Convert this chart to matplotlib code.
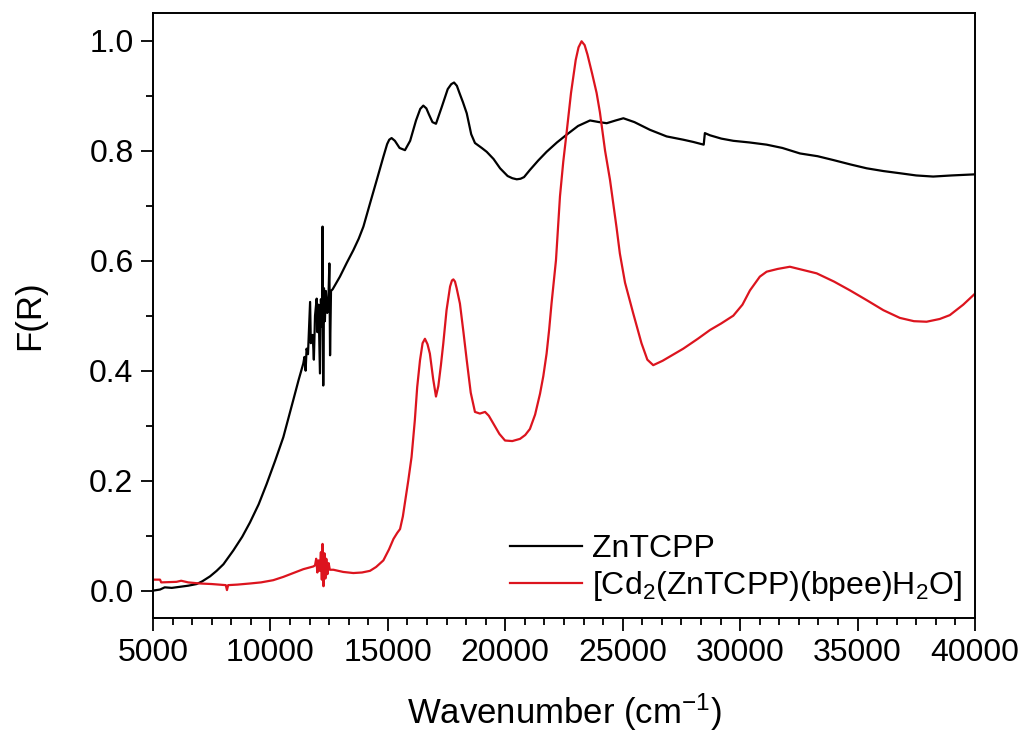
import numpy as np
import matplotlib
matplotlib.use('Agg')
from matplotlib import pyplot as plt
from matplotlib.ticker import MultipleLocator, AutoMinorLocator

# ZnTCPP (black)
znt_x = [5000, 5300, 5500, 5800, 6150, 6500, 6860, 7100, 7430, 7710, 8000, 8420, 8800, 9130, 9500,
         9840, 10200, 10550, 10970, 11200, 11400,
         11450, 11500, 11540, 11600, 11690, 11720, 11800, 11850, 11900, 11970, 12000, 12050, 12110,
         12150, 12200, 12220, 12250, 12280, 12320, 12360, 12420, 12470, 12510, 12540, 12580, 12650,
         12960, 13250, 13530, 13760, 13960, 14240, 14530, 14810, 14970, 15060, 15160, 15300, 15500,
         15730, 15950, 16200, 16380, 16510, 16640, 16750, 16900, 17050, 17300, 17550, 17700, 17820,
         17940, 18050, 18200, 18360, 18550, 18710, 19000, 19210, 19500, 19780, 20100, 20300, 20490,
         20650, 20800, 21050, 21400, 21760, 22200, 22610, 23100, 23610, 24000, 24320, 24700, 25030,
         25500, 26160, 26870, 27580, 28000, 28450, 28500, 28720, 29200, 29710, 30400, 31130, 31800,
         32550, 33300, 33970, 34700, 35390, 36100, 36810, 37500, 38220, 39000, 40000]
znt_y = [0.000, 0.002, 0.006, 0.005, 0.007, 0.009, 0.012, 0.017, 0.026, 0.036, 0.048, 0.073, 0.098,
         0.124, 0.157, 0.194, 0.236, 0.279, 0.346, 0.383, 0.413,
         0.425, 0.400, 0.440, 0.430, 0.525, 0.450, 0.465, 0.420, 0.500, 0.531, 0.470, 0.520, 0.395,
         0.530, 0.480, 0.662, 0.373, 0.550, 0.490, 0.545, 0.505, 0.530, 0.595, 0.428, 0.545, 0.548,
         0.571, 0.596, 0.619, 0.640, 0.662, 0.704, 0.747, 0.789, 0.812, 0.820, 0.823, 0.818, 0.805,
         0.801, 0.818, 0.855, 0.876, 0.882, 0.877, 0.866, 0.852, 0.849, 0.880, 0.912, 0.921, 0.924,
         0.918, 0.905, 0.888, 0.868, 0.830, 0.814, 0.805, 0.798, 0.785, 0.768, 0.754, 0.750, 0.748,
         0.749, 0.752, 0.765, 0.782, 0.798, 0.815, 0.829, 0.845, 0.855, 0.852, 0.850, 0.855, 0.859,
         0.852, 0.838, 0.826, 0.820, 0.816, 0.811, 0.832, 0.828, 0.822, 0.818, 0.815, 0.811, 0.805,
         0.795, 0.790, 0.783, 0.775, 0.768, 0.763, 0.759, 0.755, 0.753, 0.755, 0.757]

# [Cd2(ZnTCPP)(bpee)H2O] (red)
cd_x = [5000, 5300, 5350, 6000, 6200, 6500, 7000, 7500, 8100, 8150, 8200, 8600, 9130, 9600, 10120,
        10550, 10970, 11400, 11830,
        11900, 11950, 12000, 12050, 12100, 12150, 12190, 12220, 12260, 12300, 12340, 12380, 12430,
        12480, 12530,
        12680, 13100, 13530, 13900, 14240, 14500, 14810, 15050, 15240, 15400, 15520, 15640, 15730,
        15870, 16010, 16150, 16250, 16370, 16480, 16580, 16690, 16790, 16930, 17050, 17150, 17260,
        17360, 17500, 17650, 17730, 17790, 17860, 17930, 18070, 18220, 18360, 18530, 18710, 18920,
        19140, 19300, 19490, 19750, 19990, 20300, 20630, 20850, 21050, 21270, 21480, 21620, 21760,
        21870, 21970, 22060, 22160, 22330, 22470, 22610, 22800, 23000, 23120, 23250, 23380, 23500,
        23700, 23890, 24030, 24250, 24460, 24740, 24880, 25100, 25450, 25800, 26050, 26300, 26700,
        27100, 27580, 28200, 28720, 29200, 29710, 30100, 30420, 30840, 31130, 31600, 32120, 32700,
        33260, 34000, 34680, 35400, 36100, 36800, 37400, 37940, 38500, 38930, 39500, 39930, 40000]
cd_y = [0.020, 0.020, 0.015, 0.016, 0.018, 0.015, 0.013, 0.012, 0.010, 0.001, 0.010, 0.011, 0.013,
        0.015, 0.019, 0.025, 0.032, 0.039, 0.044,
        0.046, 0.058, 0.033, 0.055, 0.036, 0.070, 0.020, 0.085, 0.008, 0.068, 0.022, 0.058, 0.030,
        0.050, 0.038,
        0.038, 0.034, 0.032, 0.033, 0.036, 0.043, 0.055, 0.075, 0.094, 0.105, 0.112, 0.135, 0.160,
        0.200, 0.243, 0.310, 0.370, 0.419, 0.450, 0.458, 0.448, 0.431, 0.385, 0.353, 0.372, 0.410,
        0.449, 0.510, 0.553, 0.564, 0.566, 0.562, 0.550, 0.522, 0.470, 0.419, 0.360, 0.325, 0.322,
        0.325, 0.318, 0.304, 0.285, 0.273, 0.272, 0.276, 0.283, 0.294, 0.320, 0.358, 0.390, 0.431,
        0.475, 0.522, 0.560, 0.601, 0.717, 0.780, 0.832, 0.905, 0.965, 0.988, 0.999, 0.992, 0.975,
        0.940, 0.905, 0.870, 0.800, 0.747, 0.660, 0.613, 0.560, 0.504, 0.450, 0.420, 0.410, 0.418,
        0.428, 0.440, 0.458, 0.474, 0.486, 0.500, 0.520, 0.546, 0.571, 0.580, 0.585, 0.589, 0.583,
        0.577, 0.562, 0.546, 0.528, 0.510, 0.496, 0.490, 0.489, 0.494, 0.501, 0.520, 0.537, 0.540]

labels = ['ZnTCPP', r'[Cd$_2$(ZnTCPP)(bpee)H$_2$O]']

plt.rcParams['font.family'] = ['Liberation Sans', 'DejaVu Sans']
plt.rcParams['mathtext.fontset'] = 'custom'
plt.rcParams['mathtext.rm'] = 'Liberation Sans'
plt.rcParams['mathtext.it'] = 'Liberation Sans'

fig = plt.figure(figsize=(10.24, 7.35), dpi=100)
ax = fig.add_axes([0.1494, 0.159, 0.8027, 0.823])

ax.plot(znt_x, znt_y, color='black', lw=1.6, label=labels[0])
ax.plot(cd_x, cd_y, color='#dc141e', lw=1.6, label=labels[1])

ax.set_xlim(5000, 40000)
ax.set_ylim(-0.05, 1.05)
ax.xaxis.set_major_locator(MultipleLocator(5000))
ax.xaxis.set_minor_locator(AutoMinorLocator(6))
ax.yaxis.set_major_locator(MultipleLocator(0.2))
ax.yaxis.set_minor_locator(AutoMinorLocator(2))
ax.yaxis.set_major_formatter(matplotlib.ticker.FormatStrFormatter('%.1f'))

ax.tick_params(which='both', direction='out', top=False, right=False, width=1.3, labelsize=23)
ax.tick_params(which='major', length=9, pad=5)
ax.tick_params(which='minor', length=5)
for s in ax.spines.values():
    s.set_linewidth(1.4)

ax.set_xlabel(r'Wavenumber (cm$^{-1}$)', fontsize=25, labelpad=17)
ax.set_ylabel('F(R)', fontsize=25, labelpad=31)

ax.legend(loc='lower right', bbox_to_anchor=(0.984, 0.025), frameon=False, fontsize=23,
          borderpad=0, borderaxespad=0, handlelength=2.25, handletextpad=0.3, labelspacing=0.15)

fig.savefig('out.png', dpi=100)
